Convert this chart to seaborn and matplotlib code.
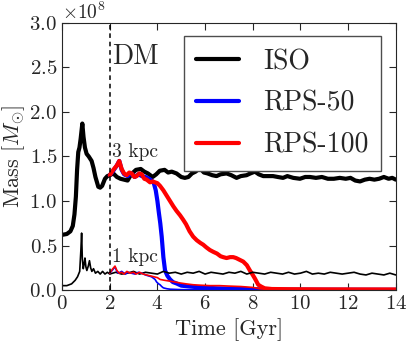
import numpy as np
import matplotlib
matplotlib.use("Agg")
import matplotlib.pyplot as plt
import seaborn as sns

# masses in units of 1e8 Msun, time in Gyr
t_iso_3 = [0.0, 0.2, 0.35, 0.45, 0.52, 0.58, 0.63, 0.68, 0.73, 0.78, 0.85, 0.9, 0.96,
           1.03, 1.12, 1.24, 1.32, 1.4, 1.52, 1.6, 1.68, 1.8, 1.9, 2.0, 2.15, 2.3, 2.45,
           2.6, 2.75, 2.9, 3.1, 3.3, 3.45, 3.6, 3.8, 3.95, 4.1, 4.3, 4.45, 4.6, 4.8, 5.0,
           5.15, 5.3, 5.45, 5.6, 5.78, 5.95, 6.1, 6.3, 6.48, 6.65, 6.9, 7.1, 7.32, 7.5,
           7.74, 7.9, 8.09, 8.25, 8.44, 8.65, 8.85, 9.05, 9.27, 9.45, 9.7, 9.98, 10.2,
           10.4, 10.65, 10.9, 11.15, 11.4, 11.65, 11.9, 12.1, 12.3, 12.5, 12.7, 12.9,
           13.1, 13.3, 13.5, 13.7, 13.85, 14.0]
m_iso_3 = [0.62, 0.63, 0.66, 0.72, 0.85, 1.05, 1.35, 1.55, 1.60, 1.70, 1.87, 1.72, 1.60,
           1.53, 1.50, 1.45, 1.37, 1.27, 1.16, 1.15, 1.17, 1.25, 1.28, 1.29, 1.31, 1.27,
           1.25, 1.24, 1.23, 1.30, 1.35, 1.36, 1.33, 1.31, 1.27, 1.30, 1.34, 1.35, 1.32,
           1.33, 1.31, 1.27, 1.26, 1.27, 1.31, 1.33, 1.37, 1.32, 1.31, 1.29, 1.28, 1.30,
           1.31, 1.29, 1.26, 1.28, 1.29, 1.31, 1.33, 1.30, 1.28, 1.28, 1.28, 1.27, 1.26,
           1.28, 1.26, 1.25, 1.27, 1.27, 1.26, 1.27, 1.25, 1.25, 1.26, 1.25, 1.26, 1.23,
           1.22, 1.24, 1.25, 1.24, 1.25, 1.27, 1.25, 1.26, 1.24]

t_iso_1 = [0.0, 0.2, 0.4, 0.55, 0.65, 0.74, 0.79, 0.82, 0.85, 0.89, 0.93, 0.96, 1.0,
           1.04, 1.1, 1.15, 1.2, 1.25, 1.32, 1.4, 1.5, 1.6, 1.7, 1.8, 1.9, 2.0, 2.25,
           2.5, 2.75, 3.0, 3.25, 3.5, 3.75, 4.0, 4.25, 4.5, 4.75, 5.0, 5.25, 5.5, 5.75,
           6.0, 6.25, 6.5, 6.75, 7.0, 7.25, 7.5, 7.75, 8.0, 8.25, 8.5, 8.75, 9.0, 9.25,
           9.5, 9.75, 10.0, 10.25, 10.5, 10.75, 11.0, 11.25, 11.5, 11.75, 12.0, 12.25,
           12.5, 12.75, 13.0, 13.25, 13.5, 13.75, 14.0]
m_iso_1 = [0.05, 0.05, 0.07, 0.11, 0.15, 0.21, 0.45, 0.64, 0.35, 0.24, 0.30, 0.36, 0.26,
           0.22, 0.27, 0.33, 0.25, 0.21, 0.24, 0.19, 0.21, 0.18, 0.21, 0.18, 0.20, 0.18,
           0.20, 0.18, 0.19, 0.21, 0.18, 0.20, 0.19, 0.18, 0.21, 0.19, 0.20, 0.18, 0.20,
           0.19, 0.21, 0.18, 0.20, 0.19, 0.18, 0.20, 0.19, 0.21, 0.18, 0.20, 0.19, 0.18,
           0.20, 0.19, 0.18, 0.20, 0.18, 0.19, 0.21, 0.18, 0.19, 0.18, 0.20, 0.19, 0.18,
           0.19, 0.20, 0.18, 0.17, 0.19, 0.18, 0.17, 0.19, 0.17]

t_rps50_3 = [2.0, 2.15, 2.3, 2.4, 2.5, 2.6, 2.75, 2.9, 3.05, 3.2, 3.35, 3.5, 3.65, 3.76,
             3.85, 3.93, 4.0, 4.06, 4.12, 4.18, 4.25, 4.32, 4.42, 4.53, 4.65, 4.8, 5.0,
             5.36, 5.8, 6.5, 7.2, 8.0, 9.0, 14.0]
m_rps50_3 = [1.29, 1.34, 1.40, 1.45, 1.35, 1.30, 1.28, 1.31, 1.27, 1.30, 1.28, 1.27, 1.25,
             1.23, 1.20, 1.12, 1.00, 0.87, 0.75, 0.60, 0.37, 0.22, 0.16, 0.12, 0.09, 0.075,
             0.05, 0.04, 0.03, 0.02, 0.015, 0.01, 0.005, 0.003]

t_rps100_3 = [2.0, 2.15, 2.3, 2.4, 2.5, 2.6, 2.71, 2.82, 2.92, 3.03, 3.13, 3.24, 3.34,
              3.45, 3.55, 3.69, 3.8, 3.9, 4.0, 4.11, 4.25, 4.39, 4.53, 4.67, 4.8, 4.95,
              5.08, 5.2, 5.35, 5.5, 5.65, 5.8, 5.92, 6.05, 6.2, 6.34, 6.5, 6.65, 6.76,
              6.9, 7.05, 7.18, 7.3, 7.45, 7.6, 7.75, 7.88, 8.0, 8.09, 8.17, 8.23, 8.35,
              8.5, 8.8, 9.5, 11.0, 14.0]
m_rps100_3 = [1.29, 1.35, 1.40, 1.45, 1.36, 1.31, 1.29, 1.32, 1.31, 1.27, 1.28, 1.31, 1.30,
              1.25, 1.24, 1.21, 1.22, 1.21, 1.20, 1.17, 1.12, 1.06, 1.00, 0.94, 0.89, 0.84,
              0.79, 0.74, 0.66, 0.60, 0.56, 0.53, 0.51, 0.48, 0.45, 0.43, 0.41, 0.38, 0.37,
              0.36, 0.37, 0.37, 0.36, 0.34, 0.32, 0.28, 0.22, 0.17, 0.13, 0.09, 0.06, 0.04,
              0.02, 0.012, 0.01, 0.008, 0.007]

t_rps50_1 = [2.0, 2.1, 2.22, 2.3, 2.36, 2.5, 2.65, 2.78, 2.9, 3.06, 3.2, 3.34, 3.5, 3.62,
             3.75, 3.9, 3.97, 4.05, 4.11, 4.18, 4.25, 4.4, 4.53, 5.0, 6.0, 14.0]
m_rps50_1 = [0.19, 0.22, 0.26, 0.21, 0.19, 0.21, 0.18, 0.20, 0.19, 0.18, 0.20, 0.19, 0.17,
             0.16, 0.15, 0.12, 0.09, 0.07, 0.06, 0.04, 0.025, 0.015, 0.01, 0.005, 0.003,
             0.001]

t_rps100_1 = [2.0, 2.1, 2.22, 2.3, 2.4, 2.5, 2.6, 2.72, 2.85, 3.0, 3.1, 3.25, 3.4, 3.55,
              3.7, 3.85, 4.0, 4.11, 4.3, 4.53, 4.75, 4.95, 5.2, 5.5, 5.8, 6.2, 6.6, 7.0,
              7.5, 8.0, 8.3, 8.6, 9.0, 14.0]
m_rps100_1 = [0.19, 0.23, 0.27, 0.22, 0.19, 0.20, 0.18, 0.21, 0.19, 0.20, 0.18, 0.20, 0.18,
              0.17, 0.16, 0.15, 0.14, 0.12, 0.11, 0.10, 0.09, 0.08, 0.07, 0.06, 0.055, 0.05,
              0.05, 0.045, 0.04, 0.03, 0.015, 0.006, 0.003, 0.002]

labels = ['ISO', 'RPS-50', 'RPS-100']

sns.set_style('ticks')
plt.rcParams['font.family'] = 'serif'
plt.rcParams['font.serif'] = ['cmr10', 'DejaVu Serif']
plt.rcParams['mathtext.fontset'] = 'cm'
plt.rcParams['axes.formatter.use_mathtext'] = True
plt.rcParams['axes.unicode_minus'] = False

fig = plt.figure(figsize=(4.11, 3.47), dpi=100)
ax = fig.add_axes([0.151, 0.164, 0.812, 0.770])

scale = 1e8
sns.lineplot(x=t_iso_3, y=np.array(m_iso_3) * scale, color='k', linewidth=3, ax=ax, label=labels[0])
sns.lineplot(x=t_rps50_3, y=np.array(m_rps50_3) * scale, color='#0000ff', linewidth=3, ax=ax, label=labels[1])
sns.lineplot(x=t_rps100_3, y=np.array(m_rps100_3) * scale, color='#ff0000', linewidth=3, ax=ax, label=labels[2])
sns.lineplot(x=t_iso_1, y=np.array(m_iso_1) * scale, color='k', linewidth=1.2, ax=ax)
sns.lineplot(x=t_rps50_1, y=np.array(m_rps50_1) * scale, color='#0000ff', linewidth=1.2, ax=ax)
sns.lineplot(x=t_rps100_1, y=np.array(m_rps100_1) * scale, color='#ff0000', linewidth=1.2, ax=ax)

ax.axvline(2.0, color='k', linestyle=(0, (3, 2.5)), linewidth=1.1)

ax.text(2.1, 2.62e8, 'DM', fontsize=20, va='center', ha='left')
ax.text(2.1, 1.49e8, '3 kpc', fontsize=14, va='baseline', ha='left')
ax.text(2.1, 0.31e8, '1 kpc', fontsize=14, va='baseline', ha='left')

ax.set_xlim(0, 14)
ax.set_ylim(0, 3.0e8)
ax.set_xticks(np.arange(0, 15, 2))
ax.set_yticks(np.arange(0, 3.01e8, 0.5e8))
ax.tick_params(direction='in', top=True, right=True, labelsize=15, length=5)
ax.yaxis.get_offset_text().set_fontsize(14)

ax.set_xlabel('Time [Gyr]', fontsize=16)
ax.set_ylabel(r'Mass [$M_{\odot}$]', fontsize=16, labelpad=2)

leg = ax.legend(loc='upper right', bbox_to_anchor=(0.955, 0.95), borderaxespad=0,
                fontsize=20, fancybox=False, edgecolor='0.3', framealpha=1,
                handlelength=1.55, handletextpad=0.85, labelspacing=0.55, borderpad=0.45)
leg.get_frame().set_linewidth(1.0)
for line in leg.get_lines():
    line.set_linewidth(3)

fig.savefig('out.png', dpi=100)
